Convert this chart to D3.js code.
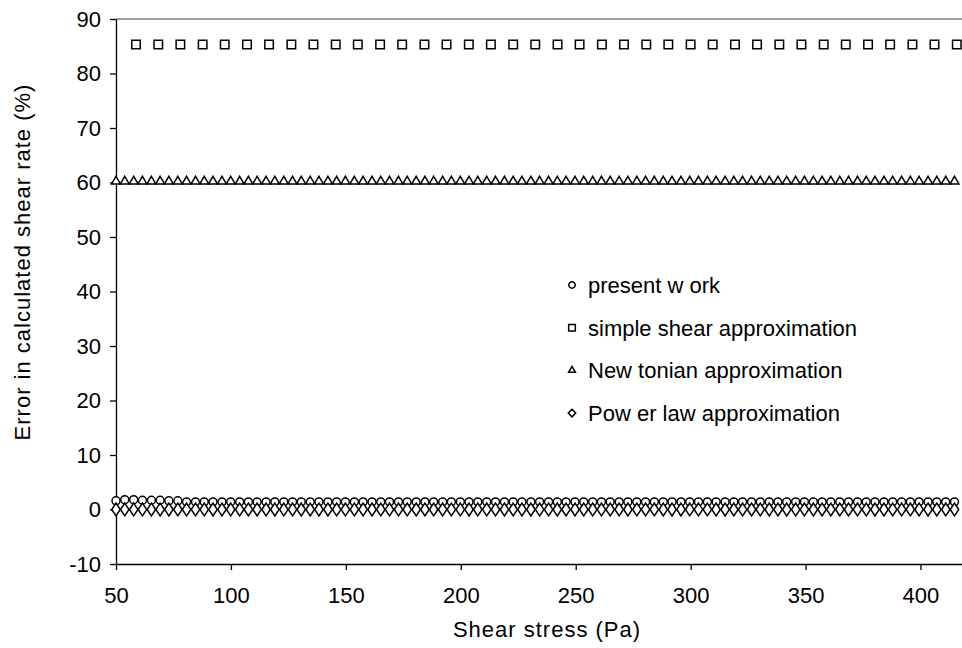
<!doctype html>
<html>
  <head>
    <meta charset="utf-8">
    <script src="https://cdnjs.cloudflare.com/ajax/libs/d3/7.8.5/d3.min.js"></script>
    <style>
      body { margin: 0; background: #fff; }
      text { font-family: "Liberation Sans", Arial, sans-serif; fill: #000; }
    </style>
  </head>
  <body>
    <svg id="chart" width="962" height="648"></svg>
    <script>
        // shear stress (Pa) for the dense series
        var stress = [
            50.0, 53.8, 57.7, 61.5, 65.4, 69.2, 73.0, 76.9, 80.7, 84.6,
            88.4, 92.2, 96.1, 99.9, 103.8, 107.6, 111.4, 115.3, 119.1, 123.0,
            126.8, 130.6, 134.5, 138.3, 142.2, 146.0, 149.8, 153.7, 157.5, 161.4,
            165.2, 169.0, 172.9, 176.7, 180.6, 184.4, 188.2, 192.1, 195.9, 199.8,
            203.6, 207.4, 211.3, 215.1, 219.0, 222.8, 226.6, 230.5, 234.3, 238.2,
            242.0, 245.8, 249.7, 253.5, 257.4, 261.2, 265.0, 268.9, 272.7, 276.6,
            280.4, 284.2, 288.1, 291.9, 295.8, 299.6, 303.4, 307.3, 311.1, 315.0,
            318.8, 322.6, 326.5, 330.3, 334.2, 338.0, 341.8, 345.7, 349.5, 353.4,
            357.2, 361.0, 364.9, 368.7, 372.6, 376.4, 380.2, 384.1, 387.9, 391.8,
            395.6, 399.4, 403.3, 407.1, 411.0, 414.8
        ];
        var presentWork = [
            1.6, 1.8, 1.8, 1.7, 1.7, 1.7, 1.6, 1.6, 1.4, 1.4,
            1.4, 1.4, 1.4, 1.4, 1.4, 1.4, 1.4, 1.4, 1.4, 1.4,
            1.4, 1.4, 1.4, 1.4, 1.4, 1.4, 1.4, 1.4, 1.4, 1.4,
            1.4, 1.4, 1.4, 1.4, 1.4, 1.4, 1.4, 1.4, 1.4, 1.4,
            1.4, 1.4, 1.4, 1.4, 1.4, 1.4, 1.4, 1.4, 1.4, 1.4,
            1.4, 1.4, 1.4, 1.4, 1.4, 1.4, 1.4, 1.4, 1.4, 1.4,
            1.4, 1.4, 1.4, 1.4, 1.4, 1.4, 1.4, 1.4, 1.4, 1.4,
            1.4, 1.4, 1.4, 1.4, 1.4, 1.4, 1.4, 1.4, 1.4, 1.4,
            1.4, 1.4, 1.4, 1.4, 1.4, 1.4, 1.4, 1.4, 1.4, 1.4,
            1.4, 1.4, 1.4, 1.4, 1.4, 1.4
        ];
        var newtonian = [
            60.2, 60.2, 60.2, 60.2, 60.2, 60.2, 60.2, 60.2, 60.2, 60.2,
            60.2, 60.2, 60.2, 60.2, 60.2, 60.2, 60.2, 60.2, 60.2, 60.2,
            60.2, 60.2, 60.2, 60.2, 60.2, 60.2, 60.2, 60.2, 60.2, 60.2,
            60.2, 60.2, 60.2, 60.2, 60.2, 60.2, 60.2, 60.2, 60.2, 60.2,
            60.2, 60.2, 60.2, 60.2, 60.2, 60.2, 60.2, 60.2, 60.2, 60.2,
            60.2, 60.2, 60.2, 60.2, 60.2, 60.2, 60.2, 60.2, 60.2, 60.2,
            60.2, 60.2, 60.2, 60.2, 60.2, 60.2, 60.2, 60.2, 60.2, 60.2,
            60.2, 60.2, 60.2, 60.2, 60.2, 60.2, 60.2, 60.2, 60.2, 60.2,
            60.2, 60.2, 60.2, 60.2, 60.2, 60.2, 60.2, 60.2, 60.2, 60.2,
            60.2, 60.2, 60.2, 60.2, 60.2, 60.2
        ];
        var powerLaw = [
            0.0, 0.0, 0.0, 0.0, 0.0, 0.0, 0.0, 0.0, 0.0, 0.0,
            0.0, 0.0, 0.0, 0.0, 0.0, 0.0, 0.0, 0.0, 0.0, 0.0,
            0.0, 0.0, 0.0, 0.0, 0.0, 0.0, 0.0, 0.0, 0.0, 0.0,
            0.0, 0.0, 0.0, 0.0, 0.0, 0.0, 0.0, 0.0, 0.0, 0.0,
            0.0, 0.0, 0.0, 0.0, 0.0, 0.0, 0.0, 0.0, 0.0, 0.0,
            0.0, 0.0, 0.0, 0.0, 0.0, 0.0, 0.0, 0.0, 0.0, 0.0,
            0.0, 0.0, 0.0, 0.0, 0.0, 0.0, 0.0, 0.0, 0.0, 0.0,
            0.0, 0.0, 0.0, 0.0, 0.0, 0.0, 0.0, 0.0, 0.0, 0.0,
            0.0, 0.0, 0.0, 0.0, 0.0, 0.0, 0.0, 0.0, 0.0, 0.0,
            0.0, 0.0, 0.0, 0.0, 0.0, 0.0
        ];

        // simple shear series is sampled more sparsely
        var stressSimple = [
            58.7, 68.4, 78.0, 87.7, 97.3, 107.0, 116.6, 126.3, 135.9, 145.6,
            155.2, 164.9, 174.5, 184.2, 193.8, 203.5, 213.1, 222.8, 232.4, 242.1,
            251.7, 261.4, 271.0, 280.7, 290.3, 300.0, 309.6, 319.3, 328.9, 338.6,
            348.2, 357.9, 367.5, 377.2, 386.8, 396.5, 406.1, 415.8
        ];
        var simpleShear = [
            85.3, 85.3, 85.3, 85.3, 85.3, 85.3, 85.3, 85.3, 85.3, 85.3,
            85.3, 85.3, 85.3, 85.3, 85.3, 85.3, 85.3, 85.3, 85.3, 85.3,
            85.3, 85.3, 85.3, 85.3, 85.3, 85.3, 85.3, 85.3, 85.3, 85.3,
            85.3, 85.3, 85.3, 85.3, 85.3, 85.3, 85.3, 85.3
        ];

        var xTicks = [50, 100, 150, 200, 250, 300, 350, 400];
        var yTicks = [-10, 0, 10, 20, 30, 40, 50, 60, 70, 80, 90];
        var legendNames = ["present w ork", "simple shear approximation", "New tonian approximation", "Pow er law approximation"];

        var svg = d3.select("#chart");
        var pLeft = 116, pRight = 963, pTop = 19, pBottom = 564;

        var x = d3.scaleLinear().domain([50, 418.5]).range([pLeft, pRight]);
        var y = d3.scaleLinear().domain([-10, 90]).range([pBottom, pTop]);

        // plot area outline (top / right in grey)
        svg.append("path")
            .attr("d", `M${pLeft},${pTop}H${pRight}V${pBottom}`)
            .attr("fill", "none")
            .attr("stroke", "#808080")
            .attr("stroke-width", 1.3);

        var yAxis = svg.append("g")
            .attr("transform", `translate(${pLeft},0)`)
            .call(d3.axisLeft(y).tickValues(yTicks).tickFormat(d => String(d)).tickSize(6).tickPadding(9).tickSizeOuter(0));
        var xAxis = svg.append("g")
            .attr("transform", `translate(0,${pBottom})`)
            .call(d3.axisBottom(x).tickValues(xTicks).tickFormat(d => String(d)).tickSize(6).tickPadding(17).tickSizeOuter(0));

        [xAxis, yAxis].forEach(a => {
            a.selectAll("path, line").attr("stroke", "#000").attr("stroke-width", 1.3);
            a.selectAll("text").style("font-size", "22px").attr("fill", "#000");
        });

        // the diamonds in the original are taller than wide
        var tallDiamond = {
            draw(ctx, size) {
                var w = Math.sqrt(size / 1.5) / 2, h = w * 1.5;
                ctx.moveTo(0, -h);
                ctx.lineTo(w, 0);
                ctx.lineTo(0, h);
                ctx.lineTo(-w, 0);
                ctx.closePath();
            }
        };

        // markers, white filled like the original
        var sym = {
            circle: d3.symbol().type(d3.symbolCircle).size(50),
            square: d3.symbol().type(d3.symbolSquare).size(72),
            triangle: d3.symbol().type(d3.symbolTriangle).size(34),
            diamond: d3.symbol().type(tallDiamond).size(108)
        };

        function drawSeries(xs, ys, kind) {
            var g = svg.append("g");
            g.selectAll("path")
                .data(xs.map((v, i) => [v, ys[i]]))
                .enter()
                .append("path")
                    .attr("d", sym[kind])
                    .attr("transform", d => `translate(${x(d[0])},${y(d[1])})`)
                    .attr("fill", "#fff")
                    .attr("stroke", "#000")
                    .attr("stroke-width", 1.5);
        }

        drawSeries(stress, presentWork, "circle");
        drawSeries(stressSimple, simpleShear, "square");
        drawSeries(stress, newtonian, "triangle");
        drawSeries(stress, powerLaw, "diamond");

        // legend
        var kinds = ["circle", "square", "triangle", "diamond"];
        var legendSym = {
            circle: d3.symbol().type(d3.symbolCircle).size(32),
            square: d3.symbol().type(d3.symbolSquare).size(44),
            triangle: d3.symbol().type(d3.symbolTriangle).size(20),
            diamond: d3.symbol().type(d3.symbolSquare).size(28)
        };
        var legend = svg.append("g");
        legendNames.forEach((name, i) => {
            var ly = 285 + i * 42.7;
            legend.append("path")
                .attr("d", legendSym[kinds[i]]())
                .attr("transform", `translate(572,${ly})` + (kinds[i] == "diamond" ? " rotate(45)" : ""))
                .attr("fill", "#fff")
                .attr("stroke", "#000")
                .attr("stroke-width", 1.5);
            legend.append("text")
                .attr("x", 588)
                .attr("y", ly + 8)
                .style("font-size", "22px")
                .text(name);
        });

        svg.append("text")
            .attr("x", 547)
            .attr("y", 637)
            .attr("text-anchor", "middle")
            .style("font-size", "22px")
            .style("letter-spacing", "1px")
            .text("Shear stress (Pa)");

        svg.append("text")
            .attr("transform", "translate(30,262) rotate(-90)")
            .attr("text-anchor", "middle")
            .style("font-size", "22px")
            .style("letter-spacing", "1px")
            .text("Error in calculated shear rate (%)");
    </script>
  </body>
</html>
